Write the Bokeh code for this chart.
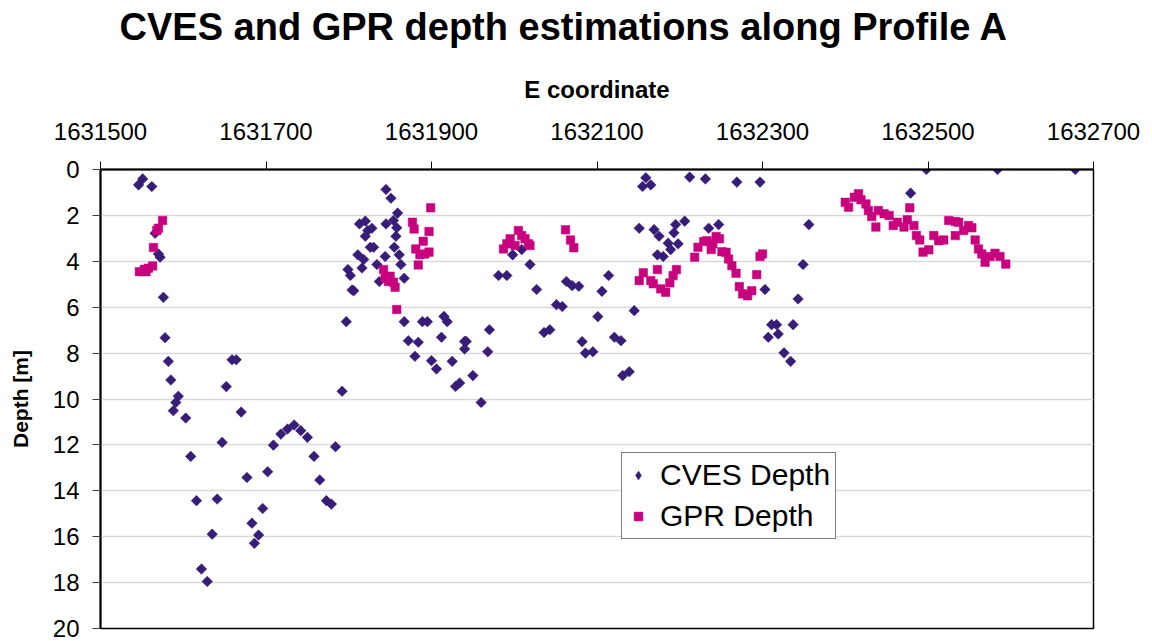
import math
from bokeh.plotting import figure
from bokeh.models import Range1d, FixedTicker, NumeralTickFormatter, Title, Legend, LegendItem
from bokeh.embed import file_html
from bokeh.resources import INLINE

# ---- data ----
cves_e = [1631546, 1631551, 1631562, 1631566, 1631570, 1631572, 1631576, 1631578,
          1631582, 1631585, 1631594, 1631591, 1631588, 1631603, 1631609, 1631616,
          1631622, 1631629, 1631635, 1631641, 1631647, 1631652, 1631659, 1631664,
          1631670, 1631677, 1631683, 1631686, 1631691, 1631696, 1631702, 1631709,
          1631718, 1631726, 1631734, 1631742, 1631750, 1631758, 1631765, 1631773,
          1631779, 1631784, 1631792, 1631797, 1631799, 1631802, 1631806, 1631804,
          1631811, 1631813, 1631816, 1631818, 1631820, 1631820, 1631823, 1631826,
          1631828, 1631830, 1631834, 1631837, 1631844, 1631845, 1631845, 1631851,
          1631854, 1631855, 1631857, 1631858, 1631859, 1631861, 1631863, 1631867,
          1631867, 1631872, 1631880, 1631884, 1631889, 1631895, 1631900, 1631906,
          1631912, 1631915, 1631919, 1631925, 1631929, 1631934, 1631940, 1631940,
          1631942, 1631950, 1631960, 1631968, 1631970, 1631981, 1631991, 1631998,
          1632009, 1632019, 1632027, 1632036, 1632043, 1632051, 1632058, 1632063,
          1632070, 1632078, 1632082, 1632086, 1632095, 1632101, 1632106, 1632114,
          1632121, 1632129, 1632131, 1632139, 1632145, 1632151, 1632155, 1632159,
          1632165, 1632169, 1632175, 1632173, 1632180, 1632186, 1632189, 1632193,
          1632195, 1632198, 1632206, 1632212, 1632231, 1632235, 1632247, 1632269,
          1632297, 1632303, 1632307, 1632311, 1632317, 1632319, 1632326, 1632334,
          1632337, 1632343, 1632349, 1632356, 1632479, 1632498, 1632584, 1632678]
cves_depth = [0.67, 0.41, 0.74, 2.78, 3.68, 3.82, 5.57, 7.33,
              8.36, 9.17, 9.88, 10.15, 10.51, 10.83, 12.5, 14.43,
              17.41, 17.95, 15.89, 14.36, 11.89, 9.46, 8.29, 8.29,
              10.57, 13.42, 15.41, 16.29, 15.93, 14.77, 13.17, 12.01,
              11.53, 11.31, 11.13, 11.38, 11.67, 12.5, 13.53, 14.43,
              14.58, 12.08, 9.66, 6.63, 4.36, 4.62, 5.28, 5.25,
              3.72, 2.37, 4.29, 3.92, 2.25, 2.91, 2.66, 3.39,
              2.56, 3.39, 4.14, 4.88, 3.79, 0.87, 2.37, 1.25,
              2.22, 3.39, 2.91, 2.54, 1.9, 3.72, 4.14, 4.74,
              6.63, 7.46, 8.14, 7.53, 6.63, 6.63, 8.33, 8.69,
              7.31, 6.4, 6.63, 8.36, 9.45, 9.3, 7.82, 7.49,
              7.49, 8.98, 10.15, 7.94, 6.98, 4.62, 4.62, 3.72,
              3.49, 4.14, 5.23, 7.1, 6.98, 5.89, 5.97, 4.88,
              5.06, 5.09, 7.5, 8.0, 7.94, 6.41, 5.31, 4.62,
              7.31, 7.46, 8.98, 8.81, 6.15, 2.56, 0.74, 0.36,
              0.67, 2.62, 2.91, 3.72, 3.79, 3.21, 3.49, 2.76,
              2.4, 3.24, 2.25, 0.33, 0.41, 2.56, 2.4, 0.55,
              0.55, 5.23, 7.31, 6.76, 6.76, 7.17, 7.99, 8.36,
              6.76, 5.64, 4.14, 2.4, 1.03, 0.0, 0.0, 0.0]

gpr_e = [1631547, 1631553, 1631558, 1631563, 1631555, 1631564, 1631568, 1631570,
         1631575, 1631842, 1631844, 1631848, 1631850, 1631854, 1631856, 1631858,
         1631877, 1631879, 1631881, 1631884, 1631886, 1631890, 1631892, 1631897,
         1631897, 1631899, 1631987, 1631991, 1631995, 1632001, 1632005, 1632009,
         1632013, 1632017, 1632019, 1632062, 1632068, 1632072, 1632151, 1632156,
         1632165, 1632168, 1632173, 1632177, 1632183, 1632188, 1632192, 1632196,
         1632218, 1632222, 1632229, 1632233, 1632238, 1632240, 1632244, 1632248,
         1632251, 1632256, 1632259, 1632263, 1632268, 1632272, 1632276, 1632282,
         1632287, 1632293, 1632297, 1632300, 1632400, 1632404, 1632411, 1632416,
         1632419, 1632425, 1632428, 1632432, 1632437, 1632440, 1632447, 1632453,
         1632458, 1632463, 1632471, 1632475, 1632478, 1632483, 1632486, 1632490,
         1632494, 1632501, 1632507, 1632513, 1632519, 1632525, 1632533, 1632533,
         1632537, 1632543, 1632549, 1632553, 1632557, 1632561, 1632565, 1632569,
         1632575, 1632581, 1632587, 1632594]
gpr_depth = [4.45, 4.35, 4.3, 4.2, 4.45, 3.4, 2.66, 2.56,
             2.22, 4.36, 4.74, 4.88, 4.65, 4.91, 5.13, 6.1,
             2.3, 2.59, 3.46, 4.16, 3.71, 3.13, 3.68, 3.6,
             2.7, 1.67, 3.46, 3.24, 3.02, 3.31, 2.66, 2.88,
             3.02, 3.24, 3.31, 2.63, 3.07, 3.41, 4.84, 4.5,
             4.84, 4.98, 4.36, 5.2, 5.35, 4.94, 4.62, 4.36,
             3.82, 3.39, 3.14, 3.1, 3.49, 3.24, 2.92, 3.02,
             3.58, 3.61, 3.9, 4.19, 4.52, 5.1, 5.42, 5.5,
             5.28, 4.58, 3.79, 3.68, 1.43, 1.64, 1.21, 1.06,
             1.32, 1.5, 1.79, 2.05, 2.51, 1.79, 1.93, 2.0,
             2.44, 2.3, 2.51, 2.19, 1.67, 2.44, 2.88, 3.07,
             3.6, 3.5, 2.88, 3.1, 3.07, 2.22, 2.27, 2.88,
             2.3, 2.66, 2.44, 2.54, 3.07, 3.46, 3.68, 4.04,
             3.79, 3.65, 3.79, 4.12]

x_ticks = [1631500, 1631700, 1631900, 1632100, 1632300, 1632500, 1632700]
y_ticks = [0, 2, 4, 6, 8, 10, 12, 14, 16, 18, 20]
series_names = ["CVES Depth", "GPR Depth"]
title_text = "CVES and GPR depth estimations along Profile A"

FONT = "Liberation Sans"
CVES_COLOR = "#371c78"
GPR_COLOR = "#c8007e"

p = figure(width=1144, height=641, output_backend="svg", toolbar_location=None,
           x_range=Range1d(1631500, 1632700), y_range=Range1d(20, 0),
           x_axis_location="above",
           min_border_left=100, min_border_right=51, min_border_top=169, min_border_bottom=13)

p.background_fill_color = "white"
p.border_fill_color = "white"
p.outline_line_color = "black"
p.outline_line_width = 1.5

# blank spacer between the axis label and the chart title, then the title itself
p.add_layout(Title(text=" ", text_font=FONT, text_font_size="12px", standoff=6), "above")
p.add_layout(Title(text=title_text, text_font=FONT, text_font_size="38px",
                   text_font_style="bold", text_color="black",
                   align="left", offset=19, standoff=6), "above")

xa = p.xaxis[0]
xa.ticker = FixedTicker(ticks=x_ticks)
xa.formatter = NumeralTickFormatter(format="0")
xa.axis_label = "E coordinate"
xa.axis_label_text_font = FONT
xa.axis_label_text_font_size = "24px"
xa.axis_label_text_font_style = "bold"
xa.axis_label_text_color = "black"
xa.axis_label_standoff = 17
xa.major_label_text_font = FONT
xa.major_label_text_font_size = "24px"
xa.major_label_text_color = "black"
xa.major_label_standoff = 22
xa.major_tick_out = 8
xa.major_tick_in = 0
xa.minor_tick_out = 0
xa.minor_tick_in = 0
xa.axis_line_width = 2
xa.axis_line_color = "black"
xa.major_tick_line_color = "black"

ya = p.yaxis[0]
ya.ticker = FixedTicker(ticks=y_ticks)
ya.axis_label = "Depth [m]"
ya.axis_label_text_font = FONT
ya.axis_label_text_font_size = "21px"
ya.axis_label_text_font_style = "bold"
ya.axis_label_text_color = "black"
ya.axis_label_standoff = 18
ya.major_label_text_font = FONT
ya.major_label_text_font_size = "24px"
ya.major_label_text_color = "black"
ya.major_label_standoff = 13
ya.major_tick_out = 8
ya.major_tick_in = 0
ya.minor_tick_out = 0
ya.minor_tick_in = 0
ya.axis_line_width = 2
ya.axis_line_color = "black"
ya.major_tick_line_color = "#404040"

p.xgrid.grid_line_color = None
p.ygrid.grid_line_color = "#d9d9d9"
p.ygrid.grid_line_width = 1.5

p.scatter(cves_e, cves_depth, marker="square", angle=math.pi / 4, size=7.5,
          fill_color=CVES_COLOR, line_color=CVES_COLOR, line_width=0.5)
gpr_r = p.scatter(gpr_e, gpr_depth, marker="square", size=8.5,
                  fill_color=GPR_COLOR, line_color=GPR_COLOR, line_width=0.5)
# legend-only diamond glyph (placed outside the visible range)
cves_key = p.scatter([1631400], [30], marker="diamond", size=12,
                     fill_color=CVES_COLOR, line_color=CVES_COLOR, line_width=0.5)

lg = Legend(items=[LegendItem(label=series_names[0], renderers=[cves_key]),
                   LegendItem(label=series_names[1], renderers=[gpr_r])],
            location=(521, 89))
lg.label_text_font = FONT
lg.label_text_font_size = "30px"
lg.label_text_color = "black"
lg.glyph_width = 22
lg.glyph_height = 22
lg.label_standoff = 11
lg.spacing = 7
lg.padding = 5
lg.margin = 0
lg.border_line_color = "black"
lg.border_line_width = 1
lg.background_fill_color = "white"
lg.background_fill_alpha = 1.0
p.add_layout(lg, "center")

open("out.html", "w").write(file_html(p, INLINE))
